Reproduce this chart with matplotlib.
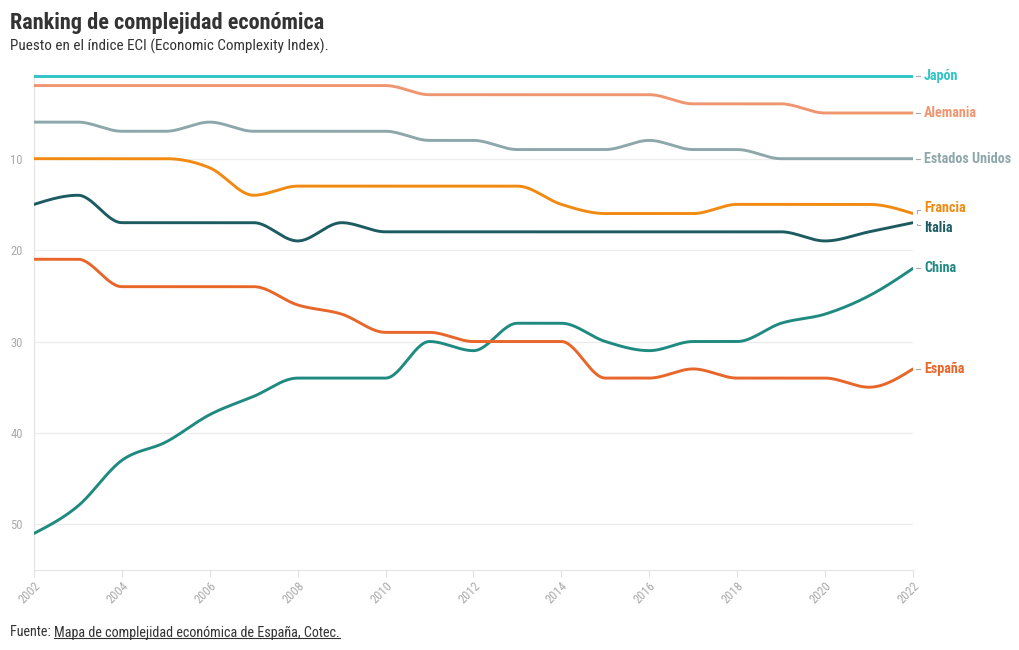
import numpy as np
import matplotlib
matplotlib.use('Agg')
from matplotlib import pyplot as plt
from matplotlib.lines import Line2D

plt.rcParams['font.family'] = ['Roboto Condensed', 'Roboto', 'DejaVu Sans']

years = list(range(2002, 2023))
japon = [1] * 21
alemania = [2, 2, 2, 2, 2, 2, 2, 2, 2, 3, 3, 3, 3, 3, 3, 4, 4, 4, 5, 5, 5]
eeuu = [6, 6, 7, 7, 6, 7, 7, 7, 7, 8, 8, 9, 9, 9, 8, 9, 9, 10, 10, 10, 10]
francia = [10, 10, 10, 10, 11, 14, 13, 13, 13, 13, 13, 13, 15, 16, 16, 16, 15, 15, 15, 15, 16]
italia = [15, 14, 17, 17, 17, 17, 19, 17, 18, 18, 18, 18, 18, 18, 18, 18, 18, 18, 19, 18, 17]
espana = [21, 21, 24, 24, 24, 24, 26, 27, 29, 29, 30, 30, 30, 34, 34, 33, 34, 34, 34, 35, 33]
china = [51, 48, 43, 41, 38, 36, 34, 34, 34, 30, 31, 28, 28, 30, 31, 30, 30, 28, 27, 25, 22]

series = [
    ('Japón', japon, '#30c4c4', 1.0),
    ('Alemania', alemania, '#ef9670', 5.0),
    ('Estados Unidos', eeuu, '#8ea7ab', 10.0),
    ('Francia', francia, '#f28a12', 15.35),
    ('Italia', italia, '#1c5c60', 17.55),
    ('China', china, '#1f8a80', 22.0),
    ('España', espana, '#e8662a', 33.0),
]


# curva monotona tipo d3 (curveMonotoneX)
def monotone(x, y, n=30):
    x = np.asarray(x, float)
    y = np.asarray(y, float)
    h = np.diff(x)
    s = np.diff(y) / h
    t = np.zeros_like(y)
    for i in range(1, len(x) - 1):
        p = (s[i - 1] * h[i] + s[i] * h[i - 1]) / (h[i - 1] + h[i])
        t[i] = (np.sign(s[i - 1]) + np.sign(s[i])) * min(abs(s[i - 1]), abs(s[i]), 0.5 * abs(p))
    t[0] = (3 * s[0] - t[1]) / 2
    t[-1] = (3 * s[-1] - t[-2]) / 2
    xs, ys = [], []
    for i in range(len(x) - 1):
        u = np.linspace(0, 1, n, endpoint=False)
        h00 = 2 * u**3 - 3 * u**2 + 1
        h10 = u**3 - 2 * u**2 + u
        h01 = -2 * u**3 + 3 * u**2
        h11 = u**3 - u**2
        xs.append(x[i] + u * h[i])
        ys.append(h00 * y[i] + h10 * h[i] * t[i] + h01 * y[i + 1] + h11 * h[i] * t[i + 1])
    xs.append([x[-1]])
    ys.append([y[-1]])
    return np.concatenate(xs), np.concatenate(ys)


fig = plt.figure(figsize=(10.2, 6.5), dpi=100)
ax = fig.add_axes([0.0333, 0.123, 0.8618, 0.7735])

for yv in [10, 20, 30, 40, 50]:
    ax.axhline(yv, color='#ececec', lw=0.9, zorder=0)

for name, vals, col, ly in series:
    xs, ys = monotone(years, vals)
    ax.plot(xs, ys, color=col, lw=2.1, solid_capstyle='round', zorder=3)
    yend = vals[-1]
    if abs(ly - yend) < 0.2:
        ax.plot([2022.07, 2022.17], [yend, yend], color='#aaaaaa', lw=0.8, clip_on=False)
    else:
        sg = np.sign(yend - ly)
        ax.plot([2022.1, 2022.1, 2022.15], [yend - 0.1 * sg, ly + 0.3 * sg, ly + 0.3 * sg],
                color='#aaaaaa', lw=0.8, clip_on=False)
    ax.text(2022.25, ly, name, color=col, fontsize=10.2, fontweight='bold',
            va='center', ha='left', clip_on=False)

ax.set_xlim(2002, 2022)
ax.set_ylim(55, 0)
ax.set_yticks([10, 20, 30, 40, 50])
ax.set_xticks(list(range(2002, 2023, 2)))
ax.tick_params(axis='y', length=0, labelsize=9, labelcolor='#aaaaaa', pad=8)
ax.tick_params(axis='x', length=5, color='#e0e0e0', labelsize=9, labelcolor='#aaaaaa', pad=2)
for lab in ax.get_xticklabels():
    lab.set_rotation(45)
    lab.set_ha('right')
    lab.set_rotation_mode('anchor')

for sp in ['top', 'right']:
    ax.spines[sp].set_visible(False)
for sp in ['left', 'bottom']:
    ax.spines[sp].set_color('#e6e6e6')
    ax.spines[sp].set_linewidth(0.9)
ax.spines['left'].set_bounds(1, 55)

fig.text(0.0098, 0.965, 'Ranking de complejidad económica', fontsize=16,
         fontweight='bold', color='#333333', va='center', ha='left')
fig.text(0.0098, 0.929, 'Puesto en el índice ECI (Economic Complexity Index).',
         fontsize=10.9, color='#333333', va='center', ha='left')

t1 = fig.text(0.0098, 0.027, 'Fuente: ', fontsize=10.2, color='#333333', va='center', ha='left')
fig.canvas.draw()
r = fig.canvas.get_renderer()
bb = t1.get_window_extent(r)
x2 = bb.x1 / fig.bbox.width
t2 = fig.text(x2, 0.027, 'Mapa de complejidad económica de España, Cotec.', fontsize=10.2,
              color='#333333', va='center', ha='left')
bb2 = t2.get_window_extent(r)
uy = (bb2.y0 + 1.5) / fig.bbox.height
fig.add_artist(Line2D([bb2.x0 / fig.bbox.width, bb2.x1 / fig.bbox.width], [uy, uy],
                      color='#333333', lw=0.8, transform=fig.transFigure))

fig.savefig('out.png', dpi=100, facecolor='white')
